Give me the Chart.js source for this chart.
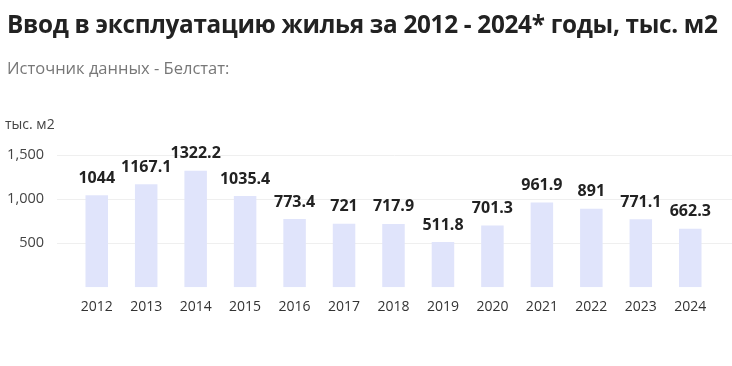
<!DOCTYPE html>
<html><head><meta charset="utf-8">
<script src="https://cdn.jsdelivr.net/npm/chart.js@4.4.1/dist/chart.umd.min.js"></script>
<style>
html,body{margin:0;padding:0;background:#fff;width:732px;height:366px;overflow:hidden;font-family:"Open Sans",sans-serif}
#title{position:absolute;left:7px;top:7px;font-size:24.3px;font-weight:700;color:#222;white-space:nowrap;letter-spacing:-0.3px}
#sub{position:absolute;left:7px;top:56px;font-size:16.5px;color:#777;white-space:nowrap}
#unit{position:absolute;left:5px;top:114px;font-size:14px;color:#444;white-space:nowrap}
#wrap{position:absolute;left:0;top:0;width:732px;height:366px}
</style></head><body>
<div id="wrap"><canvas id="c" width="732" height="366"></canvas></div>
<div id="title">Ввод в эксплуатацию жилья за 2012 - 2024* годы, тыс. м2</div>
<div id="sub">Источник данных - Белстат:</div>
<div id="unit">тыс. м2</div>
<script>
const years = ["2012","2013","2014","2015","2016","2017","2018","2019","2020","2021","2022","2023","2024"];
const values = [1044, 1167.1, 1322.2, 1035.4, 773.4, 721, 717.9, 511.8, 701.3, 961.9, 891, 771.1, 662.3];
const valueLabels = ["1044","1167.1","1322.2","1035.4","773.4","721","717.9","511.8","701.3","961.9","891","771.1","662.3"];
const gridValues = [500, 1000, 1500];

const gridPlugin = {
  id: 'fullGrid',
  beforeDatasetsDraw(chart){
    const ctx = chart.ctx, y = chart.scales.y;
    ctx.save();
    ctx.strokeStyle = '#efefef';
    ctx.lineWidth = 1;
    gridValues.forEach(v=>{
      const py = Math.round(y.getPixelForValue(v)) + 0.5;
      ctx.beginPath(); ctx.moveTo(57, py); ctx.lineTo(chart.width, py); ctx.stroke();
    });
    ctx.restore();
  }
};

const labelPlugin = {
  id: 'valueLabels',
  afterDatasetsDraw(chart){
    const ctx = chart.ctx;
    const meta = chart.getDatasetMeta(0);
    ctx.save();
    ctx.font = 'bold 16px "Open Sans", sans-serif';
    ctx.fillStyle = '#222';
    ctx.textAlign = 'center';
    ctx.textBaseline = 'bottom';
    meta.data.forEach((bar,i)=>{
      ctx.fillText(valueLabels[i], bar.x, bar.y - 9);
    });
    ctx.restore();
  }
};

new Chart(document.getElementById('c'), {
  type: 'bar',
  data: { labels: years, datasets: [{ data: values, backgroundColor: '#e0e4fb', barPercentage: 0.91, categoryPercentage: 0.5 }] },
  options: {
    responsive: false,
    animation: false,
    layout: { padding: { left: 8, right: 17, top: 155, bottom: 48 } },
    plugins: { legend: { display: false }, tooltip: { enabled: false }, title: { display: false } },
    scales: {
      x: {
        grid: { display: false },
        border: { display: false },
        ticks: { color: '#333', font: { size: 14, family: '"Open Sans", sans-serif' }, padding: 3, maxRotation: 0 }
      },
      y: {
        min: 0, max: 1500,
        border: { display: false },
        grid: { display: false, tickLength: 15 },
        afterFit: (s) => { s.width = 64; },
        ticks: { stepSize: 500, color: '#444', font: { size: 14.5, family: '"Open Sans", sans-serif' }, padding: 13,
          callback: (v) => v === 0 ? '' : v.toLocaleString('en-US') }
      }
    }
  },
  plugins: [gridPlugin, labelPlugin]
});
</script>
</body></html>
